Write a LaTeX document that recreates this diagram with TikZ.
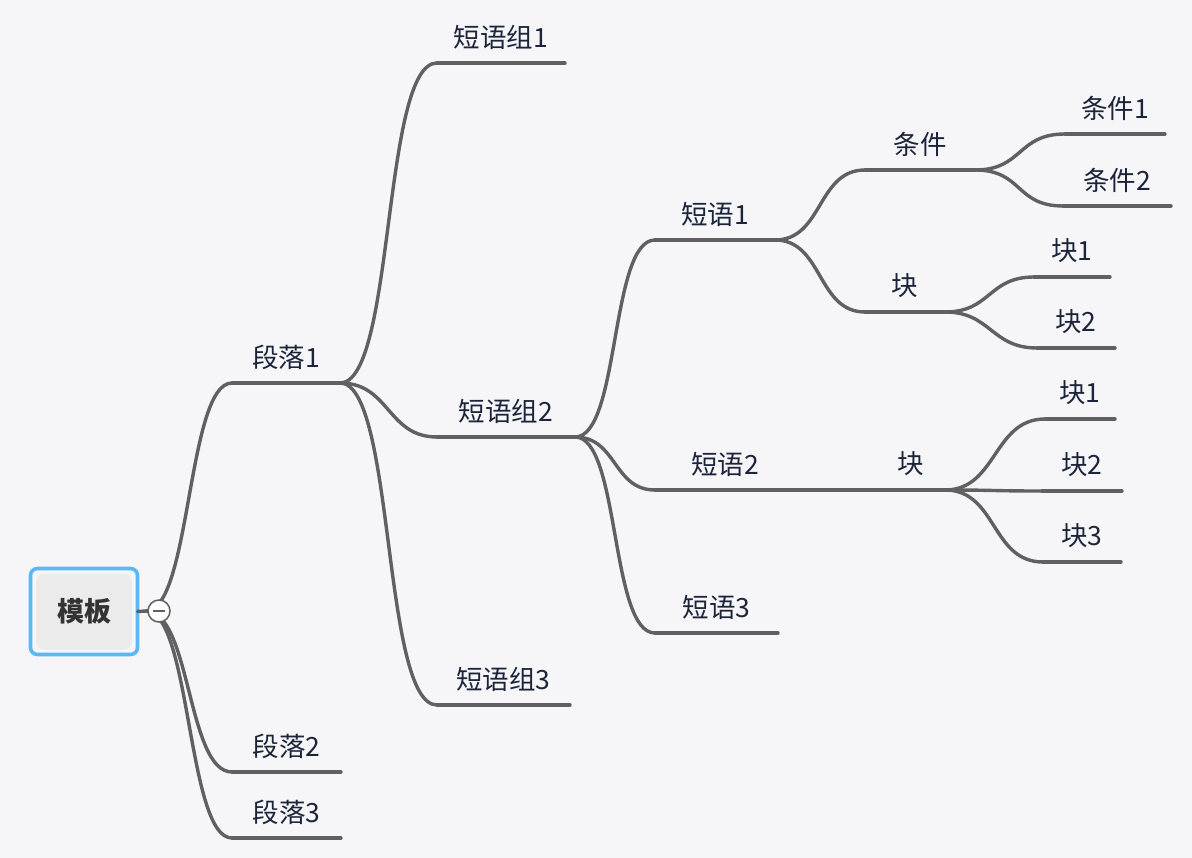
\documentclass[tikz,border=0pt]{standalone}
\usepackage{fontspec}
\setmainfont{Noto Sans CJK SC}
\usetikzlibrary{calc}
\definecolor{bg}{HTML}{F6F6F9}
\definecolor{ln}{HTML}{606060}
\definecolor{tx}{HTML}{1B2438}
\definecolor{rb}{HTML}{5BB8F6}
\definecolor{rf}{HTML}{EBEBEB}
\definecolor{rt}{HTML}{333333}
\tikzset{
  branch/.style={draw=ln, line width=3.4pt, line cap=round},
  topic/.style={minimum width=#1, minimum height=52pt, anchor=south, inner sep=0pt, outer sep=0pt, text=tx, font=\fontsize{26.5}{30}\selectfont},
}
\newcommand\mmlink[3]{\draw[branch] (#1.south east) .. controls +(#3,0) and +(-#3,0) .. (#2.south west);}
\begin{document}
\begin{tikzpicture}[x=1pt,y=-1pt]
\fill[bg] (0,0) rectangle (1192,858);
\useasboundingbox (0,0) rectangle (1192,858);

% topics
\node[topic=108] (p1) at (286,383) {段落1};
\node[topic=109] (p2) at (286.5,772) {段落2};
\node[topic=109] (p3) at (286.5,838) {段落3};
\node[topic=128] (g1) at (501,63) {短语组1};
\node[topic=138] (g2) at (506,437) {短语组2};
\node[topic=133] (g3) at (503.5,705) {短语组3};
\node[topic=120] (s1) at (715,240) {短语1};
\node[topic=140] (s2) at (725,490) {短语2};
\node[topic=123] (s3) at (716.5,633) {短语3};
\node[topic=110] (c0) at (920,170) {条件};
\node[topic=80] (ka) at (905,312) {块};
\node[topic=100] (c1) at (1115,134) {条件1};
\node[topic=108] (c2) at (1117,206) {条件2};
\node[topic=76] (ka1) at (1072,277) {块1};
\node[topic=78] (ka2) at (1076,348) {块2};
\node[topic=68] (kb) at (911,490) {块};
\node[topic=70] (kb1) at (1080,419) {块1};
\node[topic=80] (kb2) at (1082,491) {块2};
\node[topic=78] (kb3) at (1082,562) {块3};

\foreach \n in {p1,p2,p3,g1,g2,g3,s1,s2,s3,c0,ka,c1,c2,ka1,ka2,kb,kb1,kb2,kb3}
  \draw[branch] (\n.south west) -- (\n.south east);

% connectors
\mmlink{p1}{g1}{55}
\mmlink{p1}{g2}{50}
\mmlink{p1}{g3}{55}
\mmlink{g2}{s1}{45}
\mmlink{g2}{s2}{42}
\mmlink{g2}{s3}{45}
\mmlink{s1}{c0}{48}
\mmlink{s1}{ka}{48}
\mmlink{c0}{c1}{48}
\mmlink{c0}{c2}{48}
\mmlink{ka}{ka1}{46}
\mmlink{ka}{ka2}{46}
\draw[branch] (s2.south east) -- (kb.south west);
\mmlink{kb}{kb1}{52}
\mmlink{kb}{kb2}{52}
\mmlink{kb}{kb3}{52}

% root
\node[draw=rb, line width=3.6pt, rounded corners=7pt, fill=bg, minimum width=107pt, minimum height=86pt, inner sep=0pt, outer sep=0pt] (rootframe) at (84,611.5) {};
\node[fill=rf, rounded corners=8pt, minimum width=96pt, minimum height=76pt, inner sep=0pt, text=rt, font=\fontsize{27}{30}\selectfont\bfseries] (root) at (84,611.5) {模板};
\coordinate (hub) at (146,611);
\draw[branch] (rootframe.east) -- (hub);
\draw[branch] (hub) .. controls +(45,0) and +(-45,0) .. (p1.south west);
\draw[branch] (hub) .. controls +(45,0) and +(-45,0) .. (p2.south west);
\draw[branch] (hub) .. controls +(45,0) and +(-45,0) .. (p3.south west);
\node[circle, draw=ln, fill=white, line width=1.5pt, minimum size=22pt, inner sep=0pt] (tog) at (159,611) {};
\draw[ln, line width=1.5pt] ($(tog.center)+(-6,0)$) -- ($(tog.center)+(6,0)$);
\end{tikzpicture}
\end{document}
